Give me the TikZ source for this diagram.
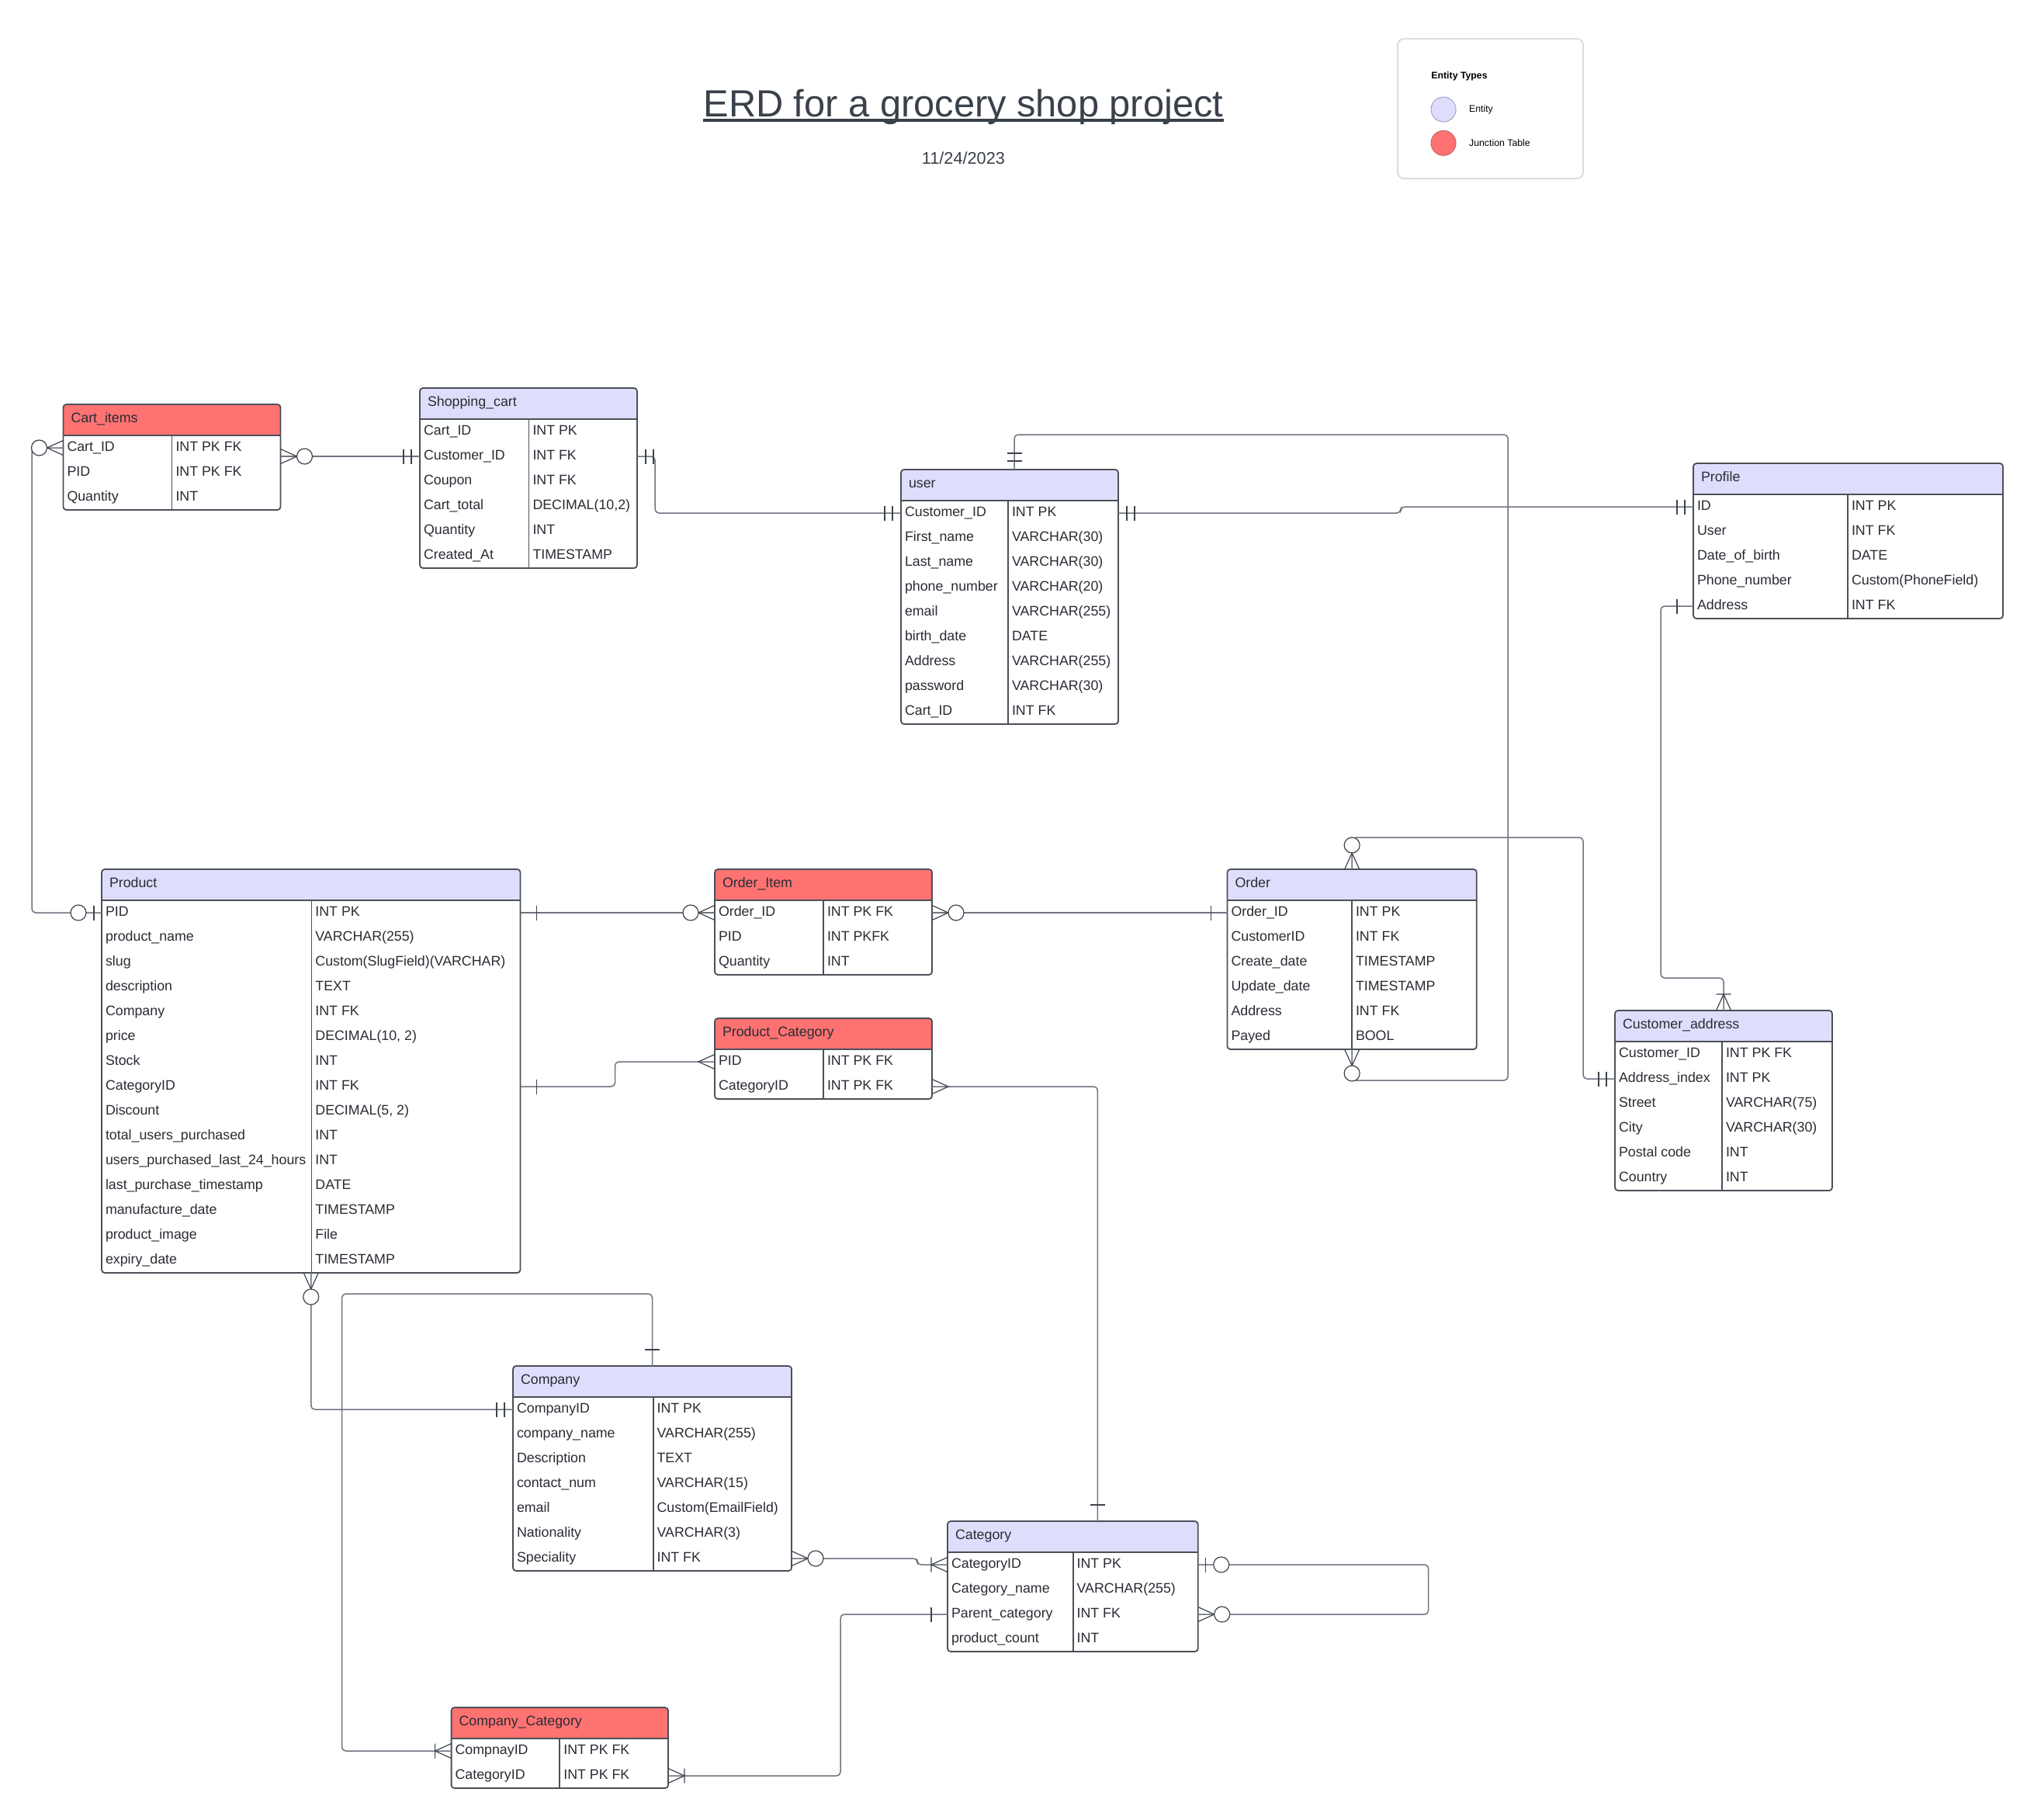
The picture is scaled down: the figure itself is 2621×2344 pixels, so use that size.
\documentclass[tikz,border=0pt]{standalone}
\usepackage{fontspec}
\setmainfont{Liberation Sans}
\usetikzlibrary{calc}
\definecolor{entcol}{HTML}{DEDEFC}
\definecolor{juncol}{HTML}{FF7272}
\definecolor{txtcol}{HTML}{282C33}
\definecolor{titlecol}{HTML}{3A414A}
\definecolor{bordcol}{HTML}{4B5058}
\definecolor{linecol}{HTML}{6E7480}
\definecolor{mkcol}{HTML}{3F444C}
\definecolor{legbord}{HTML}{DADDE3}
\definecolor{entbord}{HTML}{A4A4C8}
\definecolor{junbord}{HTML}{C86464}
\newcommand\cellfont{\fontsize{8.9pt}{10.5pt}\selectfont}
\newcommand\legfont{\fontsize{6.15pt}{7.5pt}\selectfont}
\tikzset{
  hdrnode/.style={rectangle, inner sep=0pt, outer sep=0pt, minimum height=20pt},
  rownode/.style={rectangle, inner sep=0pt, outer sep=0pt, minimum height=16pt},
  celltext/.style={anchor=base west, inner sep=0pt, outer sep=0pt, font=\cellfont, text=txtcol},
  hdrtext/.style={celltext},
  tabborder/.style={draw=bordcol, line width=0.9pt},
  conn/.style={draw=linecol, line width=0.75pt, rounded corners=2.5pt},
  ermk/.style={draw=mkcol, line width=0.6pt},
  legtext/.style={anchor=west, inner sep=0pt, font=\legfont, text=black},
  legdot/.style={circle, inner sep=0pt, minimum size=16pt, line width=0.5pt},
}
% #1 name #2 x #3 y #4 width #5 divider offset #6 fill #7 title #8 rows
\newcommand\erdtab[8]{%
  \node[hdrnode, minimum width={#4*0.5pt}, anchor=north west] (#1) at (#2,#3) {};
  \foreach \a/\b [count=\i] in {#8} {
    \node[rownode, minimum width={#4*0.5pt}, anchor=north west] (#1-\i) at (#2,{#3+40+(\i-1)*32}) {};
    \node[celltext] (#1-\i a) at ([xshift=2.5pt, yshift=-2.1pt]#1-\i.west) {\a};
    \node[celltext] (#1-\i b) at ([xshift={(#5+5)*0.5pt}, yshift=-2.1pt]#1-\i.west) {\b};
    \xdef\nrows{\i}
  }
  \begin{scope}
    \clip[rounded corners=2pt] (#1.north west) rectangle (#1-\nrows.south east);
    \fill[#6] (#1.north west) rectangle (#1.south east);
  \end{scope}
  \node[hdrtext] (#1-title) at ([xshift=5pt, yshift=-1.9pt]#1.west) {#7};
  \draw[tabborder] (#1.south west) -- (#1.south east);
  \draw[tabborder] ([xshift={#5*0.5pt}]#1.south west) -- ([xshift={#5*0.5pt}]#1-\nrows.south west);
  \draw[tabborder, rounded corners=2pt] (#1.north west) rectangle (#1-\nrows.south east);
}
\newcommand\erOne[2]{\begin{scope}[shift={(#1)}, rotate=#2]
  \draw[ermk] (21,-9.5) -- (21,9.5);\end{scope}}
\newcommand\erOnlyOne[2]{\begin{scope}[shift={(#1)}, rotate=#2]
  \draw[ermk] (11,-9.5) -- (11,9.5) (21,-9.5) -- (21,9.5);\end{scope}}
\newcommand\erZeroOne[2]{\begin{scope}[shift={(#1)}, rotate=#2]
  \draw[ermk] (10,-9.5) -- (10,9.5);
  \draw[ermk, fill=white] (30,0) circle[radius=5pt];\end{scope}}
\newcommand\erZeroMany[2]{\begin{scope}[shift={(#1)}, rotate=#2]
  \draw[ermk] (0,-9.5) -- (21,0) -- (0,9.5);
  \draw[ermk, fill=white] (31,0) circle[radius=5pt];\end{scope}}
\newcommand\erOneMany[2]{\begin{scope}[shift={(#1)}, rotate=#2]
  \draw[ermk] (0,-9.5) -- (21,0) -- (0,9.5) (21,-9.5) -- (21,9.5);\end{scope}}
\newcommand\erMany[2]{\begin{scope}[shift={(#1)}, rotate=#2]
  \draw[ermk] (0,-9.5) -- (21,0) -- (0,9.5);\end{scope}}

\begin{document}
\begin{tikzpicture}[x=0.5pt, y=-0.5pt]
\fill[white] (0,0) rectangle (2621,2344);
\useasboundingbox (0,0) rectangle (2621,2344);

% title
\node[anchor=base, inner sep=0pt, font=\fontsize{24.4pt}{28pt}\selectfont, text=titlecol] (title) at (1241.4,150) {ERD for a grocery shop project};
\draw[titlecol, line width=1.65pt] ([yshift=-2.5pt]title.base west) -- ([yshift=-2.5pt]title.base east);
\node[anchor=base, inner sep=0pt, font=\fontsize{10.85pt}{13pt}\selectfont, text=titlecol] (date) at (1241.4,211.7) {11/24/2023};

% legend
\node[draw=legbord, line width=1pt, rounded corners=4pt, minimum width=119.5pt, minimum height=90pt, inner sep=0pt] (legend) at (1920.5,140) {};
\node[legtext, font=\legfont\bfseries] (legtitle) at (1844,98.3) {Entity Types};
\node[legdot, fill=entcol, draw=entbord] (legent) at (1860,141) {};
\node[legtext] (legentt) at (1892.7,141) {Entity};
\node[legdot, fill=juncol, draw=junbord] (legjun) at (1860,184.3) {};
\node[legtext] (legjunt) at (1892.7,184.3) {Junction Table};

% tables
\erdtab{cart}{81.5}{521}{280}{140}{juncol}{Cart\_items}{Cart\_ID/INT PK FK, PID/INT PK FK, Quantity/INT}
\erdtab{shop}{541}{500}{280}{140.5}{entcol}{Shopping\_cart}{Cart\_ID/INT PK, Customer\_ID/INT FK, Coupon/INT FK, Cart\_total/{DECIMAL(10,2)}, Quantity/INT, Created\_At/TIMESTAMP}
\erdtab{user}{1161}{605}{280}{138}{entcol}{user}{Customer\_ID/INT PK, First\_name/VARCHAR(30), Last\_name/VARCHAR(30), phone\_number/VARCHAR(20), email/VARCHAR(255), birth\_date/DATE, Address/VARCHAR(255), password/VARCHAR(30), Cart\_ID/INT FK}
\erdtab{prof}{2182}{597}{399}{199}{entcol}{Profile}{ID/INT PK, User/INT FK, Date\_of\_birth/DATE, Phone\_number/Custom(PhoneField), Address/INT FK}
\erdtab{prod}{131}{1120}{539.5}{270.4}{entcol}{Product}{PID/INT PK, product\_name/VARCHAR(255), slug/Custom(SlugField)(VARCHAR), description/TEXT, Company/INT FK, price/{DECIMAL(10, 2)}, Stock/INT, CategoryID/INT FK, Discount/{DECIMAL(5, 2)}, total\_users\_purchased/INT, users\_purchased\_last\_24\_hours/INT, last\_purchase\_timestamp/DATE, manufacture\_date/TIMESTAMP, product\_image/File, expiry\_date/TIMESTAMP}
\erdtab{oi}{921}{1120}{280}{140}{juncol}{Order\_Item}{Order\_ID/INT PK FK, PID/INT PKFK, Quantity/INT}
\erdtab{pc}{921}{1312}{280}{140}{juncol}{Product\_Category}{PID/INT PK FK, CategoryID/INT PK FK}
\erdtab{order}{1581.5}{1120}{321.3}{160.5}{entcol}{Order}{Order\_ID/INT PK, CustomerID/INT FK, Create\_date/TIMESTAMP, Update\_date/TIMESTAMP, Address/INT FK, Payed/BOOL}
\erdtab{cust}{2081}{1302}{280}{138}{entcol}{Customer\_address}{Customer\_ID/INT PK FK, Address\_index/INT PK, Street/VARCHAR(75), City/VARCHAR(30), Postal code/INT, Country/INT}
\erdtab{comp}{661}{1760}{359}{180.6}{entcol}{Company}{CompanyID/INT PK, company\_name/VARCHAR(255), Description/TEXT, contact\_num/VARCHAR(15), email/Custom(EmailField), Nationality/VARCHAR(3), Speciality/INT FK}
\erdtab{cat}{1221}{1960}{322.7}{161.6}{entcol}{Category}{CategoryID/INT PK, Category\_name/VARCHAR(255), Parent\_category/INT FK, product\_count/INT}
\erdtab{cc}{581.6}{2200}{279.4}{139.7}{juncol}{Company\_Category}{CompnayID/INT PK FK, CategoryID/INT PK FK}

% connectors
\draw[conn] (shop-2.west) -- (cart-1.east |- shop-2.west);
\draw[conn] (shop-2.east) -- ++(23,0) |- (user-1.west);
\draw[conn] (user-1.east) -- ++(364,0) |- (prof-1.west);
\draw[conn] ([xshift=3pt]user.north) -- ++(0,-45) -| ($(order-6.south)+(201,40)$) -| (order-6.south);
\draw[conn] (order.north) -- ++(0,-41) -| ($(cust-2.west)+(-41,0)$) -- (cust-2.west);
\draw[conn] (prof-5.west) -| ($(cust.north)+(-81,-42)$) -| (cust.north);
\draw[conn] (cart-1.west) -- ++(-40.5,0) |- (prod-1.west);
\draw[conn] (prod-1.east) -- (oi-1.west);
\draw[conn] (oi-1.east) -- (order-1.west);
\draw[conn] (prod-8.east) -- ++(122,0) |- (pc-1.west);
\draw[conn] (pc-2.east) -| ($(cat.north)+(32,0)$);
\draw[conn] (prod-15.south) |- (comp-1.west);
\draw[conn] (comp.north) -- ++(0,-93) -| ($(cc-1.west)+(-141,0)$) -- (cc-1.west);
\draw[conn] (comp-7.east) -- ++(162,0) |- (cat-1.west);
\draw[conn] (cat-1.east) -- ++(297,0) |- (cat-3.east);
\draw[conn] (cat-3.west) -- ++(-138,0) |- (cc-2.east);

% markers
\erZeroMany{cart-1.east |- shop-2.west}{0}
\erOnlyOne{shop-2.west}{180}
\erOnlyOne{shop-2.east}{0}
\erOnlyOne{user-1.west}{180}
\erOnlyOne{user-1.east}{0}
\erOnlyOne{prof-1.west}{180}
\erOnlyOne{[xshift=3pt]user.north}{90}
\erZeroMany{order-6.south}{270}
\erZeroMany{order.north}{90}
\erOnlyOne{cust-2.west}{180}
\erOne{prof-5.west}{180}
\erOneMany{cust.north}{90}
\erZeroMany{cart-1.west}{180}
\erZeroOne{prod-1.west}{180}
\erOne{prod-1.east}{0}
\erZeroMany{oi-1.west}{180}
\erZeroMany{oi-1.east}{0}
\erOne{order-1.west}{180}
\erOne{prod-8.east}{0}
\erMany{pc-1.west}{180}
\erMany{pc-2.east}{0}
\erOne{$(cat.north)+(32,0)$}{90}
\erZeroMany{prod-15.south}{270}
\erOnlyOne{comp-1.west}{180}
\erOne{comp.north}{90}
\erOneMany{cc-1.west}{180}
\erZeroMany{comp-7.east}{0}
\erOneMany{cat-1.west}{180}
\erZeroOne{cat-1.east}{0}
\erZeroMany{cat-3.east}{0}
\erOne{cat-3.west}{180}
\erOneMany{cc-2.east}{0}
\end{tikzpicture}
\end{document}
